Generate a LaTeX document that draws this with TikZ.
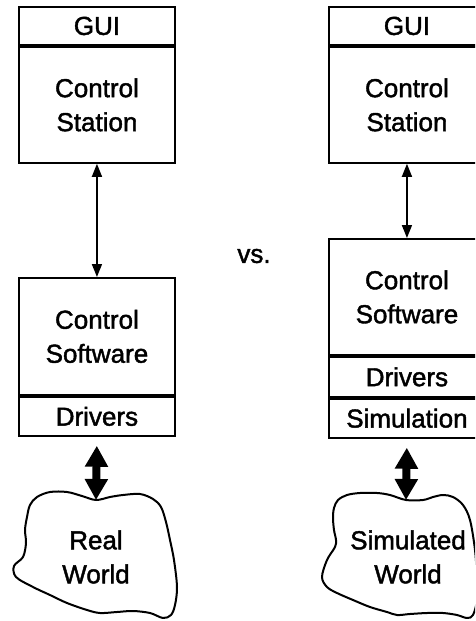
\documentclass[tikz,border=0pt]{standalone}
\usepackage{fontspec}
\setmainfont[FakeBold=1.6]{Liberation Sans}
\usetikzlibrary{arrows.meta}

\tikzset{
  blk/.style={draw, line width=1.9pt, minimum width=156pt, inner sep=0pt,
              align=center, font=\fontsize{26}{34}\selectfont},
  lbl/.style={align=center, inner sep=0pt, font=\fontsize{26}{34}\selectfont},
  slimarrow/.style={line width=1.6pt,
              {Triangle[width=10pt,length=13pt]}-{Triangle[width=10pt,length=13pt]}},
  fatarrow/.style={line width=8pt,
              {Triangle[width=22pt,length=21pt]}-{Triangle[width=22pt,length=21pt]}},
  cloudline/.style={line width=2pt, line join=round}
}

\begin{document}
\begin{tikzpicture}[x=1pt, y=-1pt]
\useasboundingbox (0,0) rectangle (475,621);
\clip (0,0) rectangle (475,621);

% ---- real system ----
\node[blk, minimum height=38pt, anchor=north west] (lgui) at (18,6) {GUI};
\node[blk, minimum height=116pt, anchor=north] (lsta) at (lgui.south) {Control\\Station};
\node[blk, minimum height=117pt, anchor=north west] (lsoft) at (18,277) {Control\\Software};
\node[blk, minimum height=39pt, anchor=north] (ldrv) at (lsoft.south) {Drivers};

\draw[cloudline] plot[smooth cycle, tension=0.55] coordinates {
  (96,500) (82,496) (67,492) (50,492) (37,497) (30,505) (27,517) (25,530)
  (26,543) (23,557) (14,566) (16,577) (33,587) (50,595) (67,603) (87,610)
  (100,613) (117,612) (133,611) (150,613) (163,618) (171,615) (175,605)
  (177,587) (174,560) (170,540) (166,522) (161,507) (153,499) (140,494)
  (123,495) (110,497)};
\coordinate (ltop) at (96,500);
\node[lbl] (lworld) at (96,557) {Real\\World};

\draw[slimarrow] (lsta.south) -- (lsoft.north);
\draw[fatarrow, shorten <=9pt] (ldrv.south) -- (ltop);

% ---- simulated system ----
\node[lbl] (vs) at (254,256) {vs.};

\node[blk, minimum height=38pt, anchor=north west] (rgui) at (328,6) {GUI};
\node[blk, minimum height=116pt, anchor=north] (rsta) at (rgui.south) {Control\\Station};
\node[blk, minimum height=116pt, anchor=north west] (rsoft) at (328,238) {Control\\Software};
\node[blk, minimum height=40pt, anchor=north] (rdrv) at (rsoft.south) {Drivers};
\node[blk, minimum height=39pt, anchor=north] (rsim) at (rdrv.south) {Simulation};

\draw[cloudline] plot[smooth cycle, tension=0.55] coordinates {
  (406,500) (390,495) (377,493) (360,493) (347,495) (338,500) (334,508)
  (333,518) (334,530) (336,540) (335,547) (327,560) (322,577) (327,587)
  (337,593) (353,600) (370,607) (387,612) (397,615) (410,614) (427,613)
  (443,613) (457,615) (467,618) (473,615) (477,600) (477,580) (475,550)
  (470,520) (463,505) (453,497) (443,495) (433,497) (423,500)};
\coordinate (rtop) at (406,500);
\node[lbl] (rworld) at (408,557) {Simulated\\World};

\draw[slimarrow] (rsta.south) -- (rsoft.north);
\draw[fatarrow, shorten <=9pt] (rsim.south) -- (rtop);
\end{tikzpicture}
\end{document}
